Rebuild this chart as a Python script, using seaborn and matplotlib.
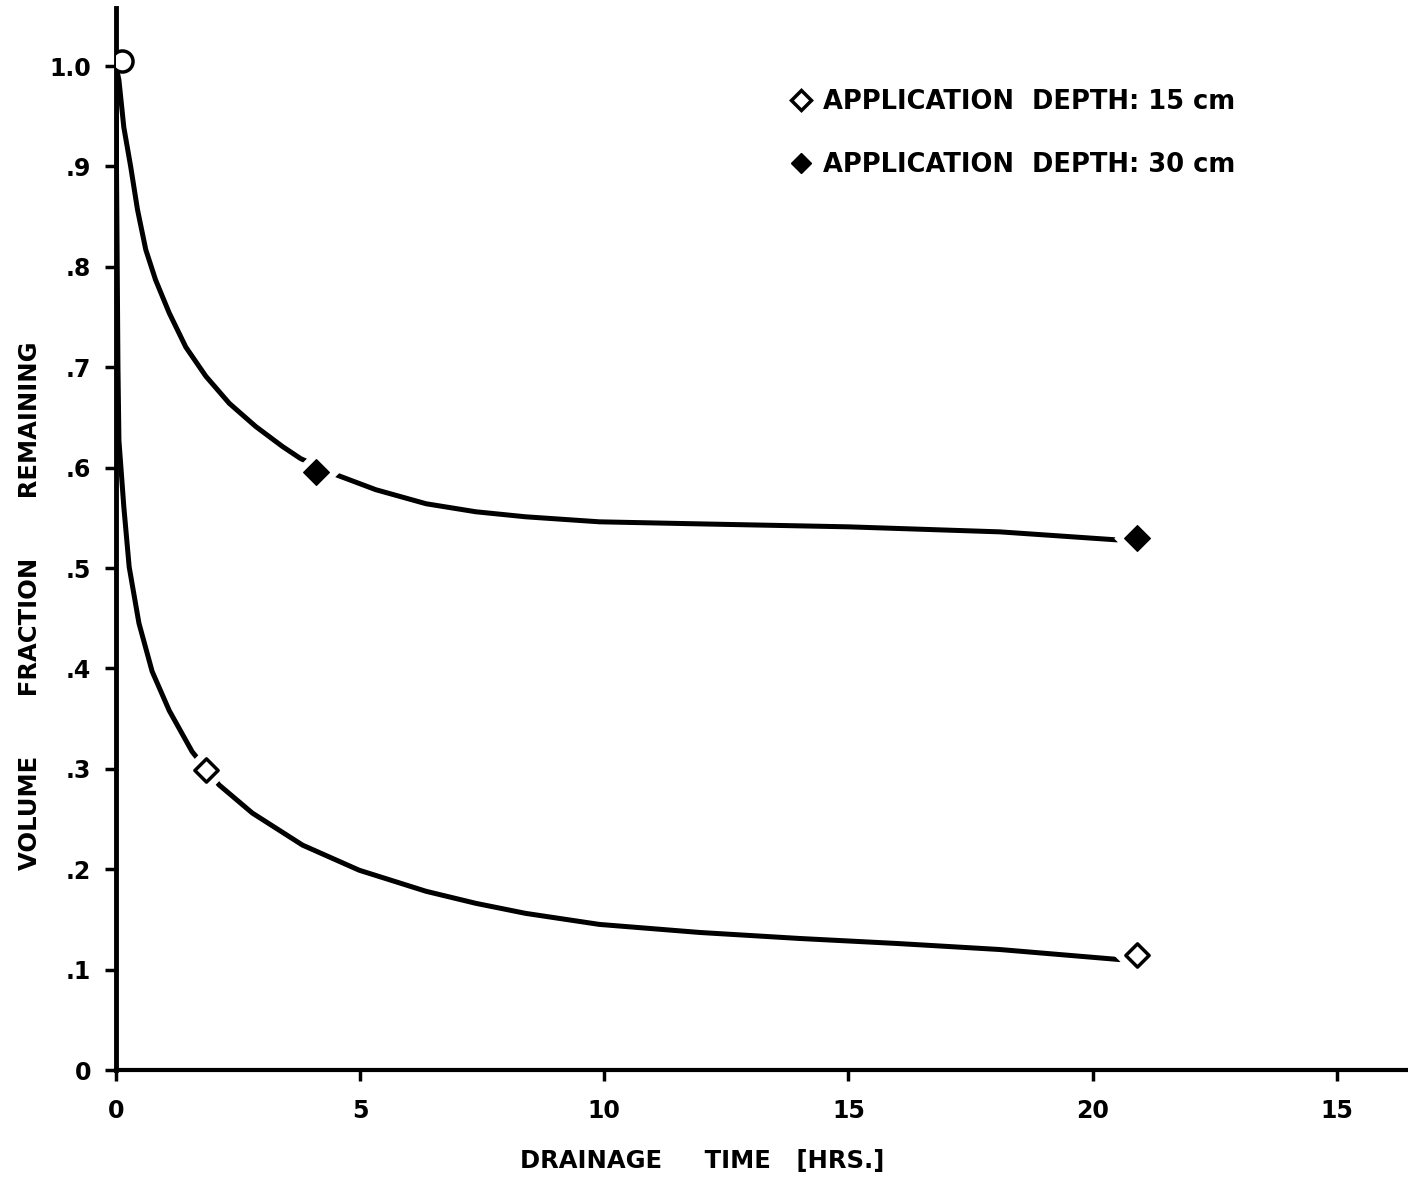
import numpy as np
import matplotlib.pyplot as plt
import seaborn as sns
import pandas as pd
from matplotlib.lines import Line2D

# curves (hours, volume fraction remaining)
t_15 = [0.0, 0.01, 0.025, 0.04, 0.06, 0.16, 0.27, 0.47, 0.74, 1.09, 1.56,
        2.11, 2.79, 3.82, 4.98, 6.35, 7.37, 8.39, 9.9, 11.95, 14.0, 16.0, 18.1, 20.55]
v_15 = [1.0, 0.9, 0.8, 0.7, 0.627, 0.561, 0.501, 0.445, 0.397, 0.358, 0.317,
        0.284, 0.256, 0.224, 0.199, 0.178, 0.166, 0.156, 0.145, 0.137, 0.131, 0.126, 0.12, 0.11]

t_30 = [0.0, 0.06, 0.16, 0.30, 0.44, 0.61, 0.81, 1.09, 1.43, 1.84, 2.32, 2.86,
        3.41, 3.78, 4.5, 5.32, 6.35, 7.37, 8.39, 9.9, 11.9, 15.0, 18.1, 20.5]
v_30 = [1.0, 0.986, 0.939, 0.900, 0.857, 0.817, 0.787, 0.754, 0.720, 0.691, 0.664, 0.641,
        0.621, 0.609, 0.593, 0.578, 0.564, 0.556, 0.551, 0.546, 0.544, 0.541, 0.536, 0.528]

# measured points
pts_15_t = [1.84, 20.9]
pts_15_v = [0.299, 0.115]
pts_30_t = [4.09, 20.9]
pts_30_v = [0.596, 0.53]
start_t = [0.12]
start_v = [1.005]

x_ticks = [0, 5, 10, 15, 20, 25]
x_labels = ["0", "5", "10", "15", "20", "15"]
y_ticks = [0, 0.1, 0.2, 0.3, 0.4, 0.5, 0.6, 0.7, 0.8, 0.9, 1.0]
y_labels = ["0", ".1", ".2", ".3", ".4", ".5", ".6", ".7", ".8", ".9", "1.0"]

curves = pd.DataFrame({
    "t": t_15 + t_30,
    "v": v_15 + v_30,
    "depth": ["15 cm"] * len(t_15) + ["30 cm"] * len(t_30),
})

sns.set_style("ticks")
plt.rcParams['font.family'] = ['DejaVu Sans']
plt.rcParams['font.weight'] = 'bold'
for key in ["text.color", "axes.labelcolor", "xtick.color", "ytick.color", "axes.edgecolor"]:
    plt.rcParams[key] = "black"

fig = plt.figure(figsize=(14.08, 11.82), dpi=100)
ax = fig.add_axes([116 / 1408, 112 / 1182, 1292 / 1408, 1.058 * 1004 / 1182])

sns.lineplot(data=curves, x="t", y="v", hue="depth", palette=["black", "black"],
             linewidth=3.6, sort=False, estimator=None, legend=False, ax=ax)

# white halo so the line breaks around each marker
halo_t = pts_15_t + pts_30_t
halo_v = pts_15_v + pts_30_v
ax.scatter(halo_t, halo_v, marker="D", s=520, color="white", zorder=3)
ax.scatter(pts_15_t, pts_15_v, marker="D", s=140, facecolor="white",
           edgecolor="black", linewidth=2.5, zorder=4)
ax.scatter(pts_30_t, pts_30_v, marker="D", s=170, color="black", zorder=4)
ax.scatter(start_t, start_v, marker="o", s=230, facecolor="white",
           edgecolor="black", linewidth=2.5, zorder=4)

ax.set_xlim(0, 26.46)
ax.set_ylim(0, 1.058)
ax.set_xticks(x_ticks)
ax.set_xticklabels(x_labels, fontsize=17, fontweight="bold")
ax.set_yticks(y_ticks)
ax.set_yticklabels(y_labels, fontsize=17, fontweight="bold")
ax.tick_params(axis="both", width=2.5, length=8, pad=10)
ax.tick_params(axis="x", pad=13)

for side in ["top", "right"]:
    ax.spines[side].set_visible(False)
ax.spines["left"].set_linewidth(3.5)
ax.spines["bottom"].set_linewidth(3)

ax.set_xlabel("DRAINAGE     TIME   [HRS.]", fontsize=17.5, fontweight="bold")
ax.xaxis.set_label_coords(0.454, -0.074)
ax.set_ylabel("VOLUME       FRACTION       REMAINING", fontsize=17.5, fontweight="bold")
ax.yaxis.set_label_coords(-0.057, 0.437)

handles = [
    Line2D([], [], marker="D", linestyle="none", markersize=10, markerfacecolor="white",
           markeredgecolor="black", markeredgewidth=2.5),
    Line2D([], [], marker="D", linestyle="none", markersize=10, color="black"),
]
ax.legend(handles, ["APPLICATION  DEPTH: 15 cm", "APPLICATION  DEPTH: 30 cm"],
          loc="upper left", bbox_to_anchor=(768 / 1408, 1 - 66 / 1182),
          bbox_transform=fig.transFigure, frameon=False, handlelength=0.8,
          handletextpad=0.45, labelspacing=1.45, prop={"size": 18.5, "weight": "bold"})

fig.savefig("out.png", dpi=100)
